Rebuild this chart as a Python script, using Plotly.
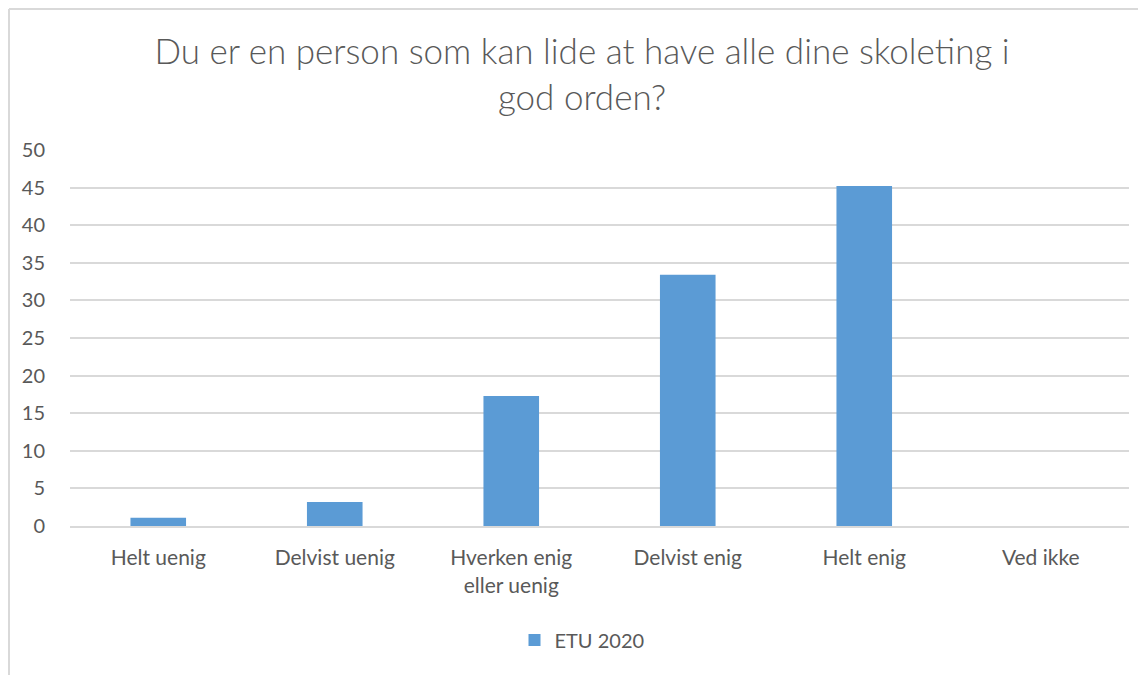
import plotly.graph_objects as go

# Data
categories = ["Helt uenig", "Delvist uenig", "Hverken enig<br>eller uenig",
              "Delvist enig", "Helt enig", "Ved ikke"]
etu_2020 = [1.1, 3.2, 17.3, 33.4, 45.2, 0]
y_ticks = [0, 5, 10, 15, 20, 25, 30, 35, 40, 45, 50]

TEXT = "#595959"
GRID = "#d9d9d9"
BAR = "#5b9bd5"
FONT = "Lato"

# the page body adds an 8px offset, so the figure is drawn a bit smaller
OFF = 8
W, H = 1146 - OFF, 675 - OFF
L, R, T, B = 62, 17, 142, 149  # plot area 70..1129 x 150..526 on screen

fig = go.Figure()
fig.add_trace(go.Bar(
    x=categories,
    y=etu_2020,
    name="ETU 2020",
    marker=dict(color=BAR, line=dict(width=0)),
))

# outer chart border (only top and left edge are visible in the crop)
px = lambda x: (x - OFF - L) / (W - L - R)
py = lambda y: (H - B - (y - OFF)) / (H - T - B)
fig.add_shape(type="line", xref="paper", yref="paper",
              x0=px(9), x1=px(1160), y0=py(9), y1=py(9),
              line=dict(color=GRID, width=2))
fig.add_shape(type="line", xref="paper", yref="paper",
              x0=px(9), x1=px(9), y0=py(9), y1=py(690),
              line=dict(color=GRID, width=2))

fig.update_layout(
    width=W, height=H,
    margin=dict(l=L, r=R, t=T, b=B, autoexpand=False),
    paper_bgcolor="white", plot_bgcolor="white",
    font=dict(family=FONT, color=TEXT, size=20),
    title=dict(
        text="Du er en person som kan lide at have alle dine skoleting i<br>god orden?",
        x=(582 - OFF) / W, xanchor="center", xref="container",
        y=1 - 56 / H, yanchor="top", yref="container",
        font=dict(family="Lato Light, Lato", size=35, color=TEXT),
    ),
    bargap=0.685,
    showlegend=True,
    legend=dict(
        orientation="h", x=px(582), xanchor="center",
        y=py(640), yanchor="middle",
        font=dict(size=20, color=TEXT),
        itemwidth=30,
    ),
)
fig.update_xaxes(
    showgrid=False, showline=True, linecolor=GRID, linewidth=2,
    ticks="", ticklabelstandoff=12,
    tickfont=dict(size=21, color=TEXT),
)
fig.update_yaxes(
    range=[0, 50], tickvals=y_ticks, showgrid=True, gridcolor=GRID, gridwidth=2,
    zeroline=False, showline=False, ticks="", ticklabelstandoff=24,
    tickfont=dict(size=20, color=TEXT),
)

fig.write_html("out.html")
